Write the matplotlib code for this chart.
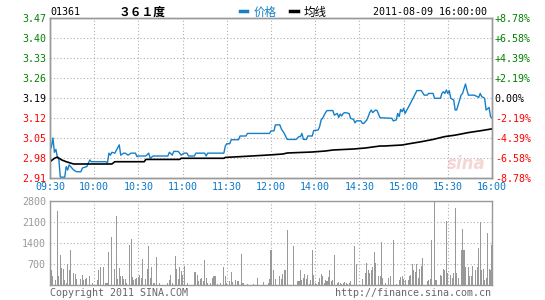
import numpy as np
from matplotlib import pyplot as plt
from matplotlib.lines import Line2D

# price line, minutes from 09:30 (300 trading minutes)
price_min = [0, 1, 2, 3, 4, 5, 6, 7, 10, 11, 12, 13, 16, 18, 21, 22, 25, 27, 28, 38,
             39, 40, 41, 42, 44, 47, 48, 50, 51, 53, 55, 58, 59, 60, 65, 67, 68, 70, 80, 81,
             83, 84, 87, 88, 89, 91, 93, 94, 98, 99, 105, 106, 107, 118, 119, 120, 122, 123, 128, 129,
             133, 134, 149, 150, 152, 153, 156, 157, 159, 161, 167, 169, 170, 171, 172, 174, 175, 178, 179, 182,
             183, 184, 185, 187, 188, 192, 193, 195, 196, 197, 198, 199, 200, 203, 204, 206, 207, 208, 211, 212,
             213, 215, 216, 217, 218, 219, 221, 222, 224, 232, 233, 235, 236, 237, 238, 239, 240, 241, 242, 244,
             247, 249, 252, 254, 256, 257, 260, 261, 265, 266, 267, 268, 269, 270, 271, 272, 274, 275, 276, 277,
             279, 280, 282, 283, 284, 288, 291, 292, 293, 295, 296, 298, 299, 300]
price_val = [3.008, 3.02, 3.05, 3.00, 3.01, 2.984, 2.975, 2.913, 2.913, 2.95, 2.938, 2.956, 2.938, 2.932, 2.932, 2.945, 2.95, 2.973, 2.967, 2.967,
             2.963, 2.997, 2.99, 3.0, 2.997, 3.026, 2.99, 2.997, 2.997, 2.99, 2.997, 2.997, 2.985, 2.987, 2.987, 2.997, 2.979, 2.987, 2.987, 3.0,
             2.99, 3.003, 3.003, 2.997, 2.99, 2.997, 2.997, 2.987, 2.987, 2.997, 2.997, 2.987, 2.997, 2.997, 3.022, 3.03, 3.03, 3.044, 3.044, 3.057,
             3.057, 3.066, 3.066, 3.075, 3.075, 3.096, 3.096, 3.082, 3.066, 3.045, 3.045, 3.055, 3.055, 3.066, 3.045, 3.045, 3.057, 3.057, 3.076, 3.078,
             3.09, 3.113, 3.119, 3.139, 3.146, 3.146, 3.13, 3.136, 3.122, 3.134, 3.127, 3.136, 3.139, 3.136, 3.119, 3.115, 3.103, 3.11, 3.11, 3.101,
             3.101, 3.113, 3.125, 3.139, 3.148, 3.139, 3.148, 3.146, 3.121, 3.119, 3.11, 3.113, 3.136, 3.125, 3.15, 3.142, 3.154, 3.136, 3.146, 3.165,
             3.195, 3.216, 3.216, 3.2, 3.2, 3.206, 3.206, 3.189, 3.189, 3.206, 3.212, 3.206, 3.218, 3.206, 3.216, 3.189, 3.183, 3.148, 3.148, 3.165,
             3.2, 3.206, 3.239, 3.218, 3.2, 3.2, 3.192, 3.206, 3.195, 3.189, 3.148, 3.157, 3.125, 3.12]

avg_min = [0, 3, 5, 8, 11, 16, 42, 44, 64, 65, 88, 89, 118, 119, 130, 150, 158, 161, 178, 187,
           192, 206, 214, 219, 224, 227, 239, 245, 252, 260, 268, 275, 284, 293, 300]
avg_val = [2.967, 2.979, 2.983, 2.973, 2.967, 2.959, 2.959, 2.967, 2.967, 2.975, 2.975, 2.979, 2.979, 2.982, 2.985, 2.991, 2.994, 2.9975, 3.001, 3.0045,
           3.008, 3.0115, 3.015, 3.0185, 3.022, 3.022, 3.0255, 3.031, 3.037, 3.045, 3.055, 3.06, 3.069, 3.076, 3.082]

vol_min = [1, 2, 4, 5, 6, 7, 8, 9, 10, 11, 12, 13, 14, 16, 17, 18, 21, 22, 23, 24,
           25, 27, 29, 32, 33, 34, 36, 38, 39, 40, 42, 44, 45, 46, 47, 48, 49, 50, 51, 52,
           54, 55, 56, 57, 58, 59, 60, 61, 62, 63, 65, 66, 67, 68, 69, 70, 71, 72, 74, 80,
           81, 82, 83, 85, 86, 87, 88, 89, 90, 91, 93, 98, 99, 100, 101, 102, 103, 104, 105, 106,
           107, 109, 110, 111, 112, 114, 116, 118, 119, 120, 122, 123, 124, 126, 127, 128, 130, 131, 134, 138,
           141, 145, 148, 149, 150, 152, 153, 156, 157, 158, 159, 160, 161, 165, 168, 169, 170, 171, 172, 173,
           174, 175, 176, 177, 178, 179, 180, 181, 182, 183, 184, 185, 186, 187, 188, 189, 190, 191, 192, 193,
           195, 196, 197, 198, 199, 200, 201, 202, 203, 204, 207, 208, 212, 214, 215, 216, 217, 218, 219, 220,
           221, 223, 224, 225, 226, 228, 230, 231, 233, 235, 237, 238, 239, 240, 241, 243, 244, 245, 246, 247,
           248, 249, 250, 251, 252, 253, 256, 257, 258, 259, 261, 262, 265, 266, 267, 268, 269, 270, 272, 273,
           274, 275, 276, 277, 279, 280, 281, 282, 284, 285, 286, 287, 289, 290, 291, 292, 293, 294, 295, 296,
           297, 298, 299, 300]
vol_val = [489, 311, 178, 2478, 311, 1011, 567, 533, 178, 67, 700, 489, 1178, 400, 378, 211, 211, 344, 178, 200,
           222, 311, 67, 156, 511, 600, 600, 67, 67, 1111, 1600, 533, 2311, 200, 567, 311, 311, 200, 200, 67,
           1344, 1533, 255, 178, 200, 233, 255, 344, 233, 867, 200, 533, 1311, 233, 600, 56, 78, 944, 67, 67,
           178, 333, 67, 978, 533, 211, 600, 456, 333, 622, 67, 444, 444, 344, 133, 200, 222, 122, 844, 222,
           67, 67, 222, 300, 300, 44, 67, 600, 289, 67, 122, 444, 111, 178, 122, 133, 1044, 67, 44, 44,
           222, 89, 67, 200, 1155, 511, 200, 311, 200, 378, 511, 511, 1844, 1311, 122, 122, 489, 155, 222, 378,
           200, 344, 44, 178, 1155, 344, 67, 44, 111, 233, 378, 289, 67, 155, 122, 267, 489, 122, 155, 1011,
           67, 89, 67, 44, 67, 89, 67, 44, 67, 122, 1289, 711, 200, 400, 733, 511, 400, 511, 600, 1089,
           733, 311, 289, 1422, 233, 67, 233, 289, 1511, 44, 178, 267, 289, 200, 155, 178, 289, 344, 711, 489,
           422, 711, 233, 533, 644, 900, 122, 178, 200, 1511, 2789, 155, 344, 311, 533, 511, 2122, 400, 344, 233,
           400, 2567, 400, 233, 1155, 1867, 1155, 600, 600, 289, 289, 644, 489, 600, 1233, 2089, 489, 533, 178, 233,
           1733, 533, 489, 1344]

price_ticks = [2.91, 2.98, 3.05, 3.12, 3.19, 3.26, 3.33, 3.40, 3.47]
price_labels = ['2.91', '2.98', '3.05', '3.12', '3.19', '3.26', '3.33', '3.40', '3.47']
pct_labels = ['-8.78%', '-6.58%', '-4.39%', '-2.19%', '0.00%', '+2.19%', '+4.39%', '+6.58%', '+8.78%']
tick_colors = ['red'] * 4 + ['black'] + ['green'] * 4
time_pos = [0, 30, 60, 90, 120, 150, 180, 210, 240, 270, 300]
time_labels = ['09:30', '10:00', '10:30', '11:00', '11:30', '12:00', '14:00', '14:30', '15:00', '15:30', '16:00']
vol_ticks = [700, 1400, 2100, 2800]

plt.rcParams['font.family'] = ['DejaVu Sans Mono', 'Noto Sans CJK SC']
fs = 7.2
border = '#999999'
grid_kw = dict(color='#b0b0b0', linestyle=(0, (1, 2)), linewidth=0.8)

fig = plt.figure(figsize=(5.45, 3.0), dpi=100)
W, H = 545.0, 300.0
ax = fig.add_axes([50 / W, 1 - 178 / H, 442 / W, 160 / H])
axv = fig.add_axes([50 / W, 1 - 285 / H, 442 / W, 84 / H])

ax.plot(price_min, price_val, color='#1580c8', lw=1.0, zorder=3)
ax.plot(avg_min, avg_val, color='black', lw=1.2, zorder=3)
ax.set_xlim(0, 300)
ax.set_ylim(2.91, 3.47)
ax.set_yticks(price_ticks)
ax.set_yticklabels(price_labels, fontsize=fs)
for lbl, c in zip(ax.get_yticklabels(), tick_colors):
    lbl.set_color(c)
ax.set_xticks(time_pos)
ax.set_xticklabels(time_labels, fontsize=fs, color='#0a78c8')
ax.tick_params(length=0, pad=3)
ax.tick_params(axis='x', pad=3)
ax.grid(True, **grid_kw)

ax2 = ax.twinx()
ax2.set_ylim(2.91, 3.47)
ax2.set_yticks(price_ticks)
ax2.set_yticklabels(pct_labels, fontsize=fs)
for lbl, c in zip(ax2.get_yticklabels(), tick_colors):
    lbl.set_color(c)
ax2.tick_params(length=0, pad=2)

for a in (ax, ax2, axv):
    for s in a.spines.values():
        s.set_color(border)
        s.set_linewidth(1.0)

# faint watermark
ax.text(0.985, 0.03, 'sina', transform=ax.transAxes, ha='right', va='bottom',
        fontsize=12, fontstyle='italic', fontweight='bold', family='DejaVu Sans',
        color='#f3c4c4', alpha=0.7, zorder=1)

axv.bar(vol_min, vol_val, width=0.7, color='#999999', zorder=3)
axv.set_xlim(0, 300)
axv.set_ylim(0, 2800)
axv.set_xticks(time_pos)
axv.set_xticklabels([])
axv.set_yticks(vol_ticks)
axv.set_yticklabels([str(v) for v in vol_ticks], fontsize=fs, color='#999999')
axv.tick_params(length=0, pad=3)
axv.grid(True, **grid_kw)

# header
fig.text(50 / W, 1 - 12 / H, '01361', fontsize=fs, va='center', ha='left')
fig.text(119 / W, 1 - 12 / H, '３６１度', fontsize=8.5, fontweight='bold', va='center', ha='left',
         family=['Noto Sans CJK SC'])
fig.add_artist(Line2D([240 / W, 247 / W], [1 - 11 / H, 1 - 11 / H], color='#1580c8', lw=2.5))
fig.text(254 / W, 1 - 12 / H, '价格', fontsize=8.3, color='#1580c8', va='center', ha='left',
         family=['Noto Sans CJK SC'])
fig.add_artist(Line2D([290 / W, 298 / W], [1 - 11 / H, 1 - 11 / H], color='black', lw=2.5))
fig.text(304 / W, 1 - 12 / H, '均线', fontsize=8.3, color='black', va='center', ha='left',
         family=['Noto Sans CJK SC'])
fig.text(487 / W, 1 - 12 / H, '2011-08-09 16:00:00', fontsize=fs, va='center', ha='right')

fig.text(50 / W, 1 - 293 / H, 'Copyright 2011 SINA.COM', fontsize=fs, color='#666666', va='center', ha='left')
fig.text(491 / W, 1 - 293 / H, 'http://finance.sina.com.cn', fontsize=fs, color='#666666', va='center', ha='right')

fig.savefig('out.png', dpi=100, facecolor='white')
